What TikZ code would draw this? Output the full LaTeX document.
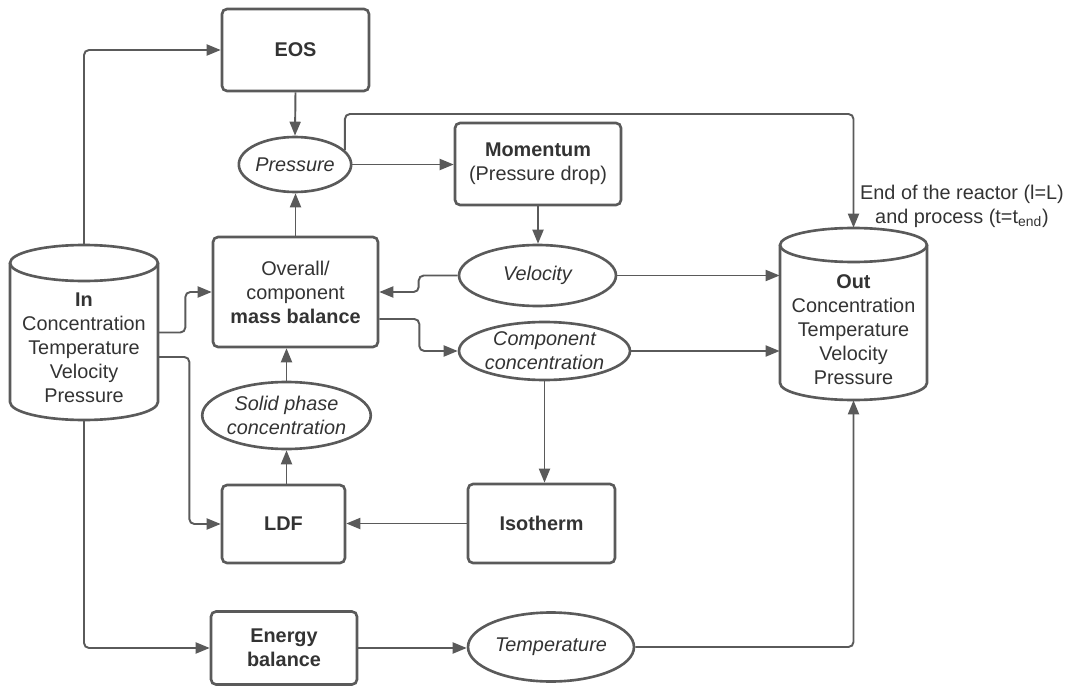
\documentclass[tikz,border=0pt]{standalone}
\usepackage{fontspec}
\setmainfont{Liberation Sans}
\usetikzlibrary{arrows.meta,shapes.geometric}
\definecolor{ln}{HTML}{5A5A5A}
\definecolor{tx}{HTML}{333333}
\begin{document}
\begin{tikzpicture}[x=0.02cm,y=-0.02cm,
  font=\fontsize{11.3pt}{13.66pt}\selectfont, text=tx,
  box/.style={draw=ln, line width=1.5pt, rounded corners=0.1cm, fill=white, inner sep=0pt, align=center},
  oval/.style={draw=ln, line width=1.5pt, ellipse, inner sep=0pt, align=center, fill=white,
    font=\fontsize{11.3pt}{13.66pt}\selectfont\itshape},
  arr/.style={draw=ln, line width=1.1pt, -{Triangle[length=0.28cm,width=0.22cm]}, rounded corners=0.1cm},
  cyl/.style={draw=ln, line width=1.5pt, fill=white},
  anchorbox/.style={inner sep=0pt, draw=none}
]
\useasboundingbox (0,0) rectangle (1072,686);

% ---------- cylinders ----------
% In
\draw[cyl] (10,263) -- (10,402) arc[start angle=180, end angle=360, x radius=1.48cm, y radius=0.36cm] -- (158,263);
\draw[cyl] (84,263) ellipse [x radius=1.48cm, y radius=0.36cm];
\node[anchorbox, minimum width=2.96cm, minimum height=3.5cm] (in) at (84,332.5) {};
\node[align=center] (intext) at (84,347.5) {\textbf{In}\\Concentration\\Temperature\\Velocity\\Pressure};
% Out
\draw[cyl] (780,245) -- (780,383) arc[start angle=180, end angle=360, x radius=1.47cm, y radius=0.34cm] -- (927,245);
\draw[cyl] (853.5,245) ellipse [x radius=1.47cm, y radius=0.34cm];
\node[anchorbox, minimum width=2.94cm, minimum height=3.44cm] (out) at (853.5,314) {};
\node[align=center] (outtext) at (853.5,330) {\textbf{Out}\\Concentration\\Temperature\\Velocity\\Pressure};

% ---------- boxes ----------
\node[box, minimum width=2.94cm, minimum height=1.64cm] (eos) at (295.5,50) {\textbf{EOS}};
\node[box, minimum width=3.32cm, minimum height=1.64cm] (mom) at (538,164) {\textbf{Momentum}\\(Pressure drop)};
\node[box, minimum width=3.30cm, minimum height=2.20cm] (mb) at (295.5,292) {Overall/\\component\\\textbf{mass balance}};
\node[box, minimum width=2.46cm, minimum height=1.56cm] (ldf) at (283.5,524) {\textbf{LDF}};
\node[box, minimum width=2.94cm, minimum height=1.58cm] (iso) at (541.5,523.5) {\textbf{Isotherm}};
\node[box, minimum width=2.92cm, minimum height=1.46cm] (energy) at (284,648) {\textbf{Energy}\\\textbf{balance}};

% ---------- ellipses ----------
\node[oval, minimum width=2.04cm, minimum height=1.10cm] (pres) at (295,164.5) {Pressure};
\node[oval, minimum width=3.14cm, minimum height=1.22cm] (vel) at (537.5,275.5) {Velocity};
\node[oval, minimum width=3.42cm, minimum height=1.16cm] (cc) at (544.5,351) {Component\\concentration};
\node[oval, minimum width=3.34cm, minimum height=1.34cm] (solid) at (286.5,415.5) {Solid phase\\concentration};
\node[oval, minimum width=3.32cm, minimum height=1.38cm] (temp) at (551,647) {Temperature};

% ---------- label ----------
\node[align=center] (endlabel) at (962,206) {End of the reactor (l=L)\\and process (t=t\textsubscript{end})};

% ---------- helper coordinates ----------
\coordinate (ptop) at (0,114);
\coordinate (inlow) at (0,357);
\coordinate (mblow) at (0,319);

% ---------- connectors ----------
\draw[arr] (in.north) |- (eos.west);
\draw[arr] (in.east) -- ++(27,0) |- (mb.west);
\draw[arr] (in.east |- inlow) -- ++(31,0) |- (ldf.west);
\draw[arr] (in.south) |- (energy.west);
\draw[arr] (eos.south) -- (pres.north);
\draw[arr] (pres.east) -- (pres.east -| mom.west);
\draw[arr] (pres.16) -- (pres.16 |- ptop) -| (out.north);
\draw[arr] (mom.south) -- (mom.south |- vel.north);
\draw[arr] (vel.west) -- ++(-39,0) |- (mb.east);
\draw[arr] (mb.east |- mblow) -- ++(40,0) |- (cc.west);
\draw[arr] (vel.east) -- (vel.east -| out.west);
\draw[arr] (cc.east) -- (cc.east -| out.west);
\draw[arr] (cc.south) -- (cc.south |- iso.north);
\draw[arr] (iso.west) -- (iso.west -| ldf.east);
\draw[arr] (solid.south |- ldf.north) -- (solid.south);
\draw[arr] (solid.north) -- (solid.north |- mb.south);
\draw[arr] (mb.north) -- (mb.north |- pres.south);
\draw[arr] (energy.east) -- (energy.east -| temp.west);
\draw[arr] (temp.east) -| (out.south);
\end{tikzpicture}
\end{document}
